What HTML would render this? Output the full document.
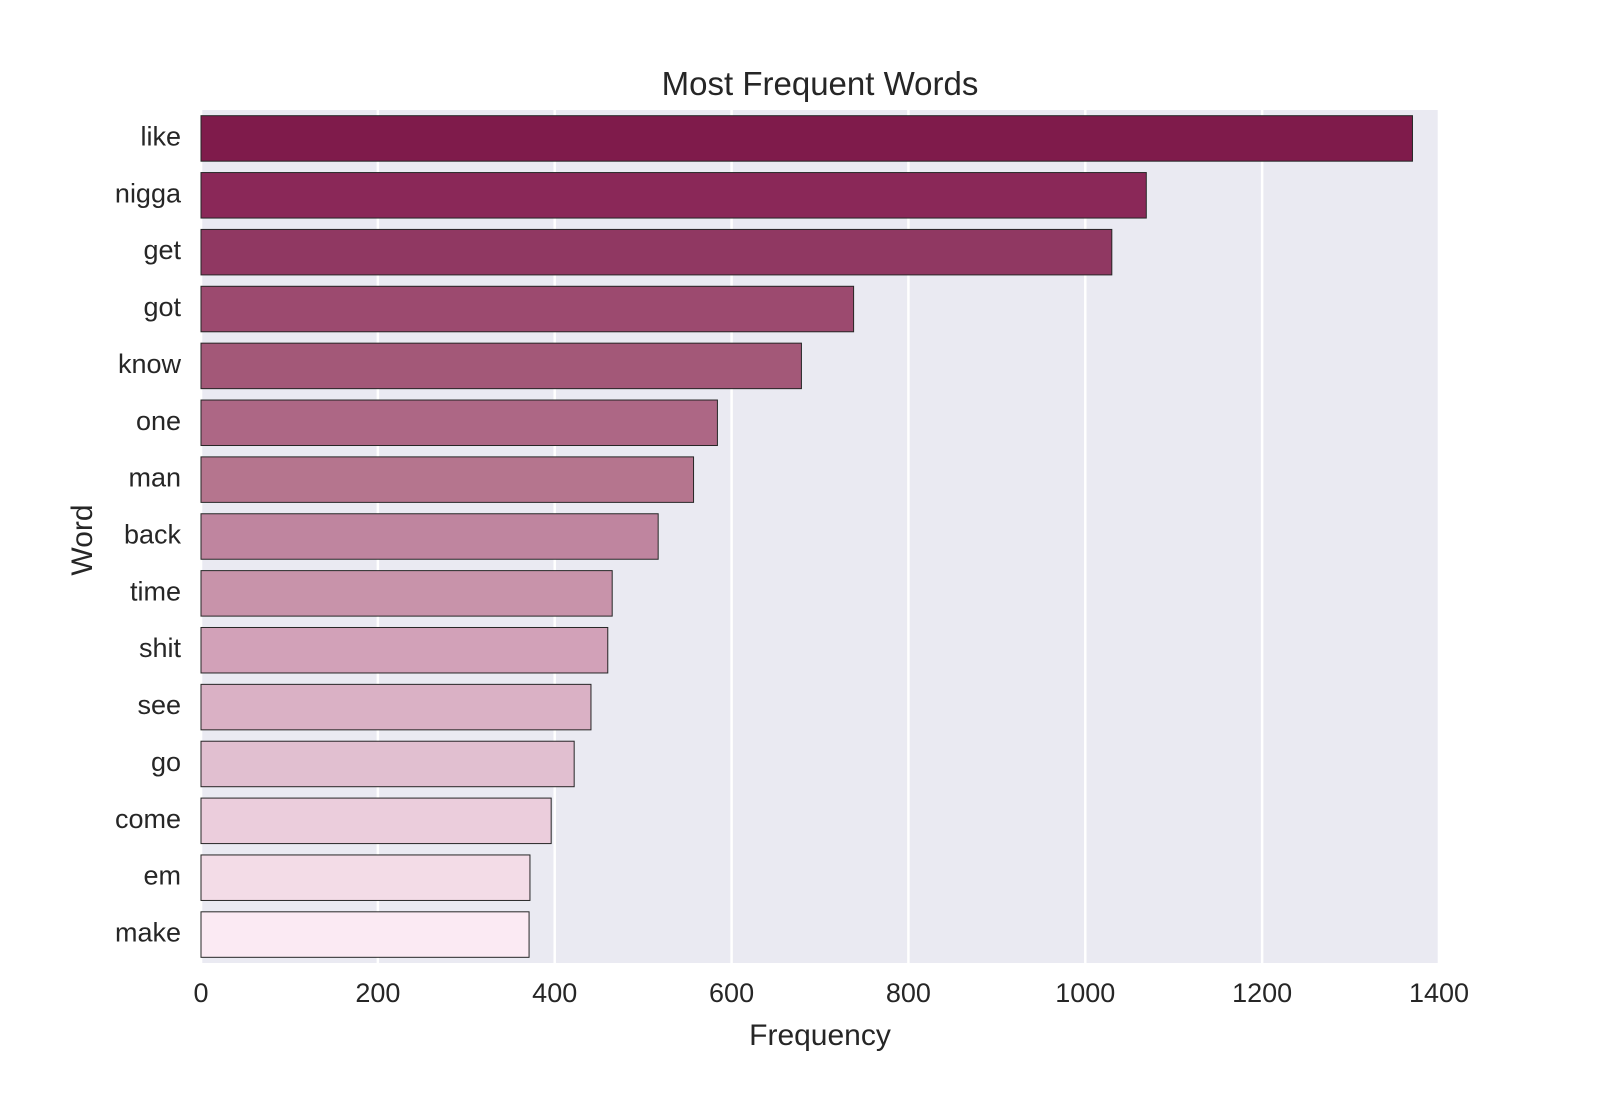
<!DOCTYPE html>
<html><head><meta charset="utf-8"><style>
html,body{margin:0;padding:0;background:#fff;}
svg{display:block;font-family:"Liberation Sans",sans-serif;}
</style></head><body>
<svg id="chart" width="1600" height="1100" viewBox="0 0 1600 1100">
<rect x="201" y="110" width="1238" height="853" fill="#eaeaf2"/>
<g id="grid"></g><g id="bars"></g><g id="ylabels"></g><g id="xlabels"></g>
<text x="820" y="95" text-anchor="middle" font-size="33" fill="#262626">Most Frequent Words</text>
<text x="820" y="1045" text-anchor="middle" font-size="30" fill="#262626">Frequency</text>
<text transform="translate(92,540) rotate(-90)" text-anchor="middle" font-size="30" fill="#262626">Word</text>
</svg>
<script>
const categories=["like","nigga","get","got","know","one","man","back","time","shit","see","go","come","em","make"];
const values=[1370,1069,1030,738,679,584,557,517,465,460,441,422,396,372,371];
const xTicks=[0,200,400,600,800,1000,1200,1400];
const colors=["#7f1b4b","#8a2858","#903862","#9c4a6f","#a35878","#ad6785","#b5758e","#bf859f","#c893aa","#d2a1b8","#dab1c5","#e1bfd0","#ebcddc","#f3dce7","#fbeaf3"];
const NS="http://www.w3.org/2000/svg";
const X0=201,X1=1439,Y0=110,Y1=963,XMAX=1400;
const x=v=>X0+(v/XMAX)*(X1-X0);
const band=(Y1-Y0)/categories.length;
const yc=i=>Y0+band*(i+0.5);
function mk(t,a,p){const e=document.createElementNS(NS,t);for(const k in a)e.setAttribute(k,a[k]);p.appendChild(e);return e;}
const grid=document.getElementById('grid'),bars=document.getElementById('bars'),yl=document.getElementById('ylabels'),xl=document.getElementById('xlabels');
xTicks.forEach(t=>{
 const l=mk('line',{x1:x(t),x2:x(t),y1:Y0,y2:Y1,stroke:'#fff','stroke-width':2.5},grid);
 
 
 const tx=mk('text',{x:x(t),y:1002,'text-anchor':'middle','font-size':27,fill:'#262626'},xl);
 tx.textContent=t;
 
 
});
categories.forEach((c,i)=>{
 const h=band*0.8;
 const r=mk('rect',{x:X0,y:yc(i)-h/2,width:x(values[i])-X0,height:h,fill:colors[i],stroke:'#262626','stroke-width':1},bars);
 
 
 const t=mk('text',{x:181,y:yc(i)+7,'text-anchor':'end','font-size':27,fill:'#262626'},yl);
 t.textContent=c;
 
 
});
</script>
</body></html>
